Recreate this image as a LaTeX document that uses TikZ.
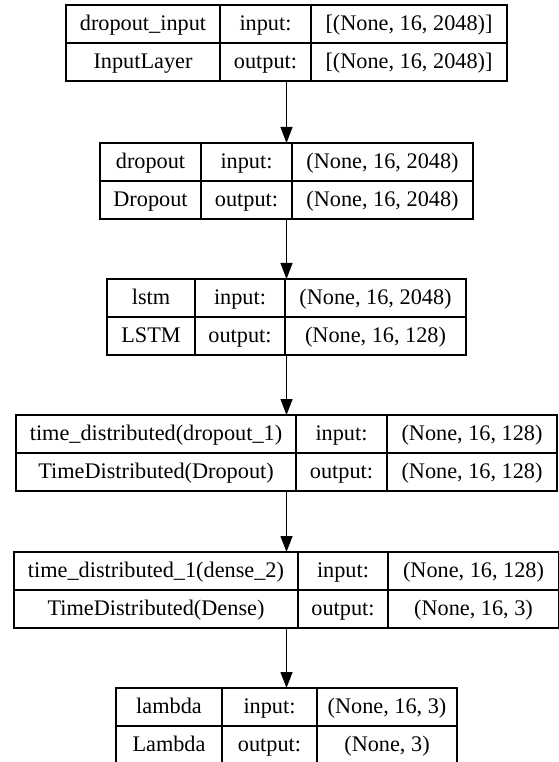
\documentclass[tikz,border=0pt]{standalone}
\usepackage{fontspec}
\setmainfont{Liberation Serif}
\usetikzlibrary{arrows.meta}
\tikzset{>={Triangle[length=12pt,width=9pt]},every node/.style={font=\fontsize{16.7}{20}\selectfont,inner sep=0pt,outer sep=0pt},lbox/.style={draw,line width=1pt},flow/.style={line width=1pt,->},edge/.style={line width=1pt}}
% #1 name, #2 top, #3 left, #4 #5 dividers, #6 layer, #7 class, #8 in shape, #9 out shape
\newcommand{\layer}[9]{%
\node[lbox,anchor=north,minimum width={(573-2*#3)*0.75pt},minimum height=57pt] (#1) at (286.5,#2) {};
\draw[edge] (#3,#2+38)--(573-#3,#2+38) (#4,#2)--(#4,#2+76) (#5,#2)--(#5,#2+76);
\node[anchor=base] (#1-n) at ({(#3+#4)/2},#2+25.5) {#6};
\node[anchor=base] (#1-i) at ({(#4+#5)/2},#2+25.5) {input:};
\node[anchor=base] (#1-is) at ({(#5+573-#3)/2},#2+25.5) {#8};
\node[anchor=base] (#1-c) at ({(#3+#4)/2},#2+63.5) {#7};
\node[anchor=base] (#1-o) at ({(#4+#5)/2},#2+63.5) {output:};
\node[anchor=base] (#1-os) at ({(#5+573-#3)/2},#2+63.5) {#9};}

\begin{document}
\begin{tikzpicture}[x=0.75pt,y=-0.75pt]
\useasboundingbox (0,0) rectangle (559,762);
\layer{din}{5}{66}{220}{311}{dropout\_input}{InputLayer}{[(None, 16, 2048)]}{[(None, 16, 2048)]}
\layer{drop}{143}{100}{201}{292}{dropout}{Dropout}{(None, 16, 2048)}{(None, 16, 2048)}
\layer{lstm}{279}{107}{195}{285}{lstm}{LSTM}{(None, 16, 2048)}{(None, 16, 128)}
\layer{td}{415}{16}{296}{387}{time\_distributed(dropout\_1)}{TimeDistributed(Dropout)}{(None, 16, 128)}{(None, 16, 128)}
\layer{tdone}{552}{14}{298}{388}{time\_distributed\_1(dense\_2)}{TimeDistributed(Dense)}{(None, 16, 128)}{(None, 16, 3)}
\layer{lam}{688}{116}{222}{317}{lambda}{Lambda}{(None, 16, 3)}{(None, 3)}
\draw[flow] (din)--(drop);
\draw[flow] (drop)--(lstm);
\draw[flow] (lstm)--(td);
\draw[flow] (td)--(tdone);
\draw[flow] (tdone)--(lam);
\end{tikzpicture}
\end{document}
